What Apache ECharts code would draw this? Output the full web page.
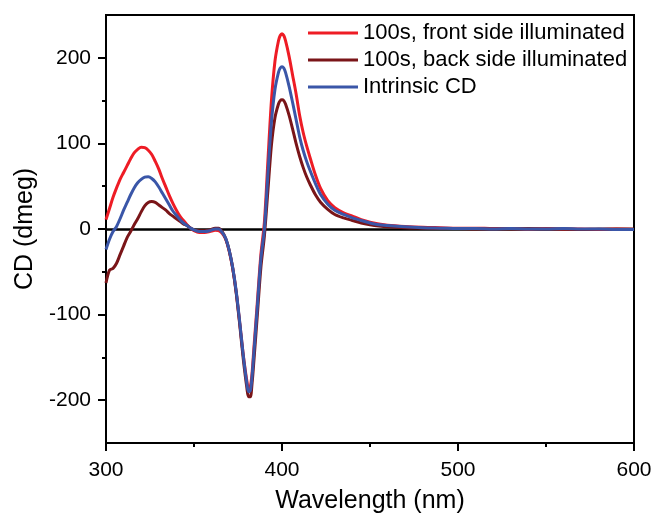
<!DOCTYPE html>
<html>
<head>
<meta charset="utf-8">
<script src="https://cdn.jsdelivr.net/npm/echarts@6/dist/echarts.min.js"></script>
<style>html,body{margin:0;padding:0;background:#fff}#c{width:656px;height:521px}</style>
</head>
<body>
<div id="c"></div>
<script>
const seriesNames = ['100s, front side illuminated', '100s, back side illuminated', 'Intrinsic CD'];
const wavelength = [300,302,304,306,308,310,312,314,316,318,320,322,324,326,328,330,332,334,336,338,340,342,344,346,348,350,353,356,359,362,364,366,368,370,372,374,376,378,380,381,382,383,384,386,388,390,392,394,396,398,399,400,401,402,404,406,408,410,412,414,416,419,422,426,430,435,440,445,450,455,460,470,480,490,500,510,520,530,540,550,560,570,580,590,600];
const frontCD = [11,24,37,48,58,66,74,82,89,93,95.5,95,92,87,79,70,59,49,39,30,22,15,10,5,1,-2,-4,-4,-3,-1.5,-2,-5,-12,-26,-46,-74,-110,-147,-177,-186,-184,-168,-140,-85,-30,8,80,150,196,220,226,228,226,220,202,180,158,133,113,97,83,63,47,33,25,19,15,11,8,6,4.5,3,2,1.5,1,1,0.5,0.5,0,0.5,0,0,-0.5,0,-0.5];
const backCD = [-63,-48,-46,-40,-30,-20,-10,-3,5,12,20,27,31,32,31,28,25,22,18,15,12,9,6,4,1,-1,-2,-2,-1,1,1,-3,-11,-25,-46,-75,-112,-152,-185,-196,-196,-180,-155,-100,-45,-8,45,98,130,146,150,151,150,146,133,117,100,85,72,61,52,40,31,23,17,13,10,7,5,3.5,2.5,1.5,1,0.5,0.5,0,0,0,0.5,0,0,-0.5,0,0,0];
const intrinsicCD = [-24,-12,-3,3,12,22,31,40,48,54,58,60.5,61,59,55,49,42,35,28,21,16,11,7,4,1,-1,-3,-3,-2,0,0,-4,-11,-25,-45,-73,-109,-148,-180,-190,-189,-172,-145,-90,-35,0,65,125,163,183,188,189.5,188,183,167,148,128,108,92,79,68,53,40,29,22,17,13,10,7,5,4,2.5,1.5,1,0.5,0.5,0,0.5,0,0,0.5,0,0,-0.5,-0.5];
const xTicks = [300, 400, 500, 600];
const yTicks = [-200, -100, 0, 100, 200];
const yMinorTicks = [-150, -50, 50, 150];

const colors = ['#ee1c25', '#7a1518', '#3a56a8'];
const font = 'Liberation Sans, Arial, sans-serif';
const pairs = arr => wavelength.map((w, i) => [w, arr[i]]);
const allValues = [frontCD, backCD, intrinsicCD];

const chart = echarts.init(document.getElementById('c'), null, {renderer: 'canvas'});
chart.setOption({
  animation: false,
  backgroundColor: '#fff',
  grid: {left: 106, right: 22, top: 15, bottom: 78, show: true, borderColor: '#000', borderWidth: 2, backgroundColor: 'transparent'},
  legend: {
    orient: 'vertical', left: 303, top: 17,
    itemWidth: 50, itemHeight: 3, itemGap: 5,
    icon: 'rect',
    textStyle: {fontSize: 22, lineHeight: 22, color: '#000', fontFamily: font},
    data: seriesNames
  },
  xAxis: {
    type: 'value', min: xTicks[0], max: xTicks[xTicks.length - 1], interval: 100,
    name: 'Wavelength (nm)', nameLocation: 'middle', nameGap: 46,
    nameTextStyle: {fontSize: 25, color: '#000', fontFamily: font},
    axisLine: {onZero: false, lineStyle: {color: '#000', width: 2}},
    axisTick: {show: true, inside: false, length: 8, lineStyle: {color: '#000', width: 2}},
    minorTick: {show: true, splitNumber: 2, length: 4, lineStyle: {color: '#000', width: 2}},
    axisLabel: {fontSize: 21, color: '#000', fontFamily: font, margin: 17},
    splitLine: {show: false}
  },
  yAxis: [{
    type: 'value', min: -250, max: 250, interval: 50,
    name: 'CD (dmeg)', nameLocation: 'middle', nameGap: 68, nameRotate: 90,
    nameTextStyle: {fontSize: 25, color: '#000', fontFamily: font},
    axisLine: {onZero: false, lineStyle: {color: '#000', width: 2}},
    axisTick: {show: true, inside: false, length: 8, customValues: yTicks, lineStyle: {color: '#000', width: 2}},
    axisLabel: {fontSize: 21, color: '#000', fontFamily: font, margin: 15, customValues: yTicks},
    splitLine: {show: false}
  }, {
    type: 'value', min: -250, max: 250, interval: 50, position: 'left',
    axisLine: {show: false},
    axisTick: {show: true, inside: false, length: 4, customValues: yMinorTicks, lineStyle: {color: '#000', width: 2}},
    axisLabel: {show: false},
    splitLine: {show: false}
  }],
  series: seriesNames.map((name, i) => ({
    name, type: 'line', showSymbol: false, symbol: 'none', smooth: 0.3,
    yAxisIndex: 0,
    data: pairs(allValues[i]),
    lineStyle: {color: colors[i], width: 3},
    itemStyle: {color: colors[i]},
    z: 3 + i,
    markLine: i === 0 ? {
      silent: true, symbol: 'none', label: {show: false},
      lineStyle: {color: '#000', width: 2.5, type: 'solid'},
      data: [{yAxis: 0}], z: 1
    } : undefined
  }))
});
</script>
</body>
</html>
